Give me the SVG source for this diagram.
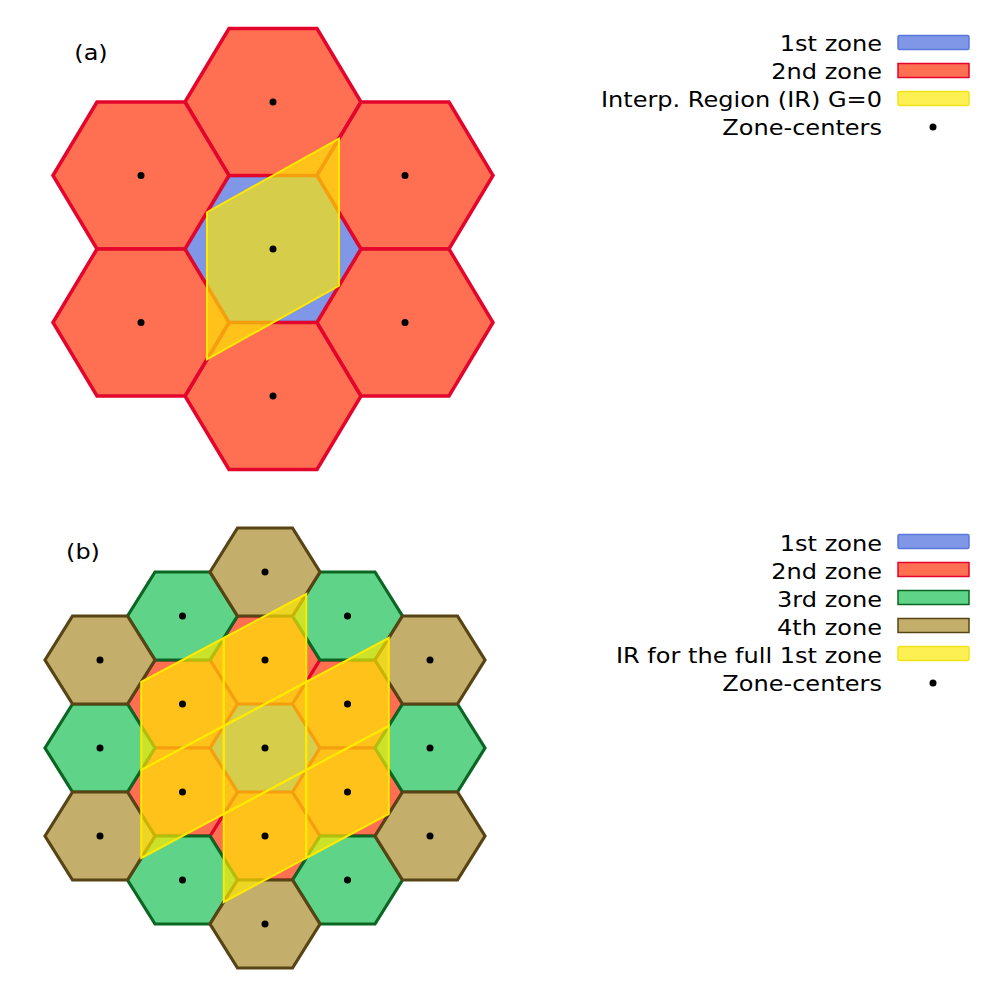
<svg xmlns="http://www.w3.org/2000/svg" width="1000" height="1000" viewBox="0 0 1000 1000">
<style>
text{font-family:"DejaVu Sans","Liberation Sans",sans-serif;font-size:22px;fill:#000}
.lg{text-anchor:end}
.z1{fill:#8096e6;stroke:#5a78dc;stroke-width:3.5;stroke-linejoin:miter}
.z2{fill:#ff7052;stroke:#e3052c;stroke-width:3.5;stroke-linejoin:miter}
.b .z1,.b .z2{stroke-width:3.2}
.z3{fill:#5fd387;stroke:#0b6623;stroke-width:3.2}
.z4{fill:#c4ae6c;stroke:#574415;stroke-width:3.2}
.ir{fill:#ffe900;fill-opacity:0.68;stroke:#ffea00;stroke-width:2}
.dot{fill:#000}
.p1{fill:#8096e6;stroke:#5a78dc;stroke-width:1.5}
.p2{fill:#ff7052;stroke:#e3052c;stroke-width:1.5}
.p3{fill:#5fd387;stroke:#0b6623;stroke-width:1.5}
.p4{fill:#c4ae6c;stroke:#574415;stroke-width:1.5}
.pir{fill:#fdf052;stroke:#f2e21a;stroke-width:1.5}
</style>
<rect width="1000" height="1000" fill="#fff"/>

<g id="panel-a">
<text transform="translate(91,60) scale(1.09,1)" text-anchor="middle">(a)</text>
<g id="a-zone1-center"><polygon class="z1" points="185,249 229,175.5 317,175.5 361,249 317,322.5 229,322.5"/></g>
<g id="a-zone2-top"><polygon class="z2" points="185,102 229,28.5 317,28.5 361,102 317,175.5 229,175.5"/></g>
<g id="a-zone2-bottom"><polygon class="z2" points="185,396 229,322.5 317,322.5 361,396 317,469.5 229,469.5"/></g>
<g id="a-zone2-tl"><polygon class="z2" points="53,175.5 97,102 185,102 229,175.5 185,249 97,249"/></g>
<g id="a-zone2-bl"><polygon class="z2" points="53,322.5 97,249 185,249 229,322.5 185,396 97,396"/></g>
<g id="a-zone2-tr"><polygon class="z2" points="317,175.5 361,102 449,102 493,175.5 449,249 361,249"/></g>
<g id="a-zone2-br"><polygon class="z2" points="317,322.5 361,249 449,249 493,322.5 449,396 361,396"/></g>
<g id="a-ir"><polygon class="ir" points="207,212.25 339,138.75 339,285.75 207,359.25"/></g>
<g id="a-centers">
<circle class="dot" cx="273" cy="249" r="3.5"/>
<circle class="dot" cx="273" cy="102" r="3.5"/>
<circle class="dot" cx="273" cy="396" r="3.5"/>
<circle class="dot" cx="141" cy="175.5" r="3.5"/>
<circle class="dot" cx="141" cy="322.5" r="3.5"/>
<circle class="dot" cx="405" cy="175.5" r="3.5"/>
<circle class="dot" cx="405" cy="322.5" r="3.5"/>
</g>
<g id="a-legend">
<g transform="translate(882,0) scale(1.093,1)">
<text class="lg" x="0" y="51">1st zone</text>
<text class="lg" x="0" y="79">2nd zone</text>
<text class="lg" x="0" y="107">Interp. Region (IR) G=0</text>
<text class="lg" x="0" y="135">Zone-centers</text>
</g>
<rect class="p1" x="898" y="35.5" width="71" height="14" rx="1.5"/>
<rect class="p2" x="898" y="63.5" width="71" height="14"/>
<rect class="pir" x="898" y="91.5" width="71" height="14" rx="1.5"/>
<circle class="dot" cx="933" cy="127" r="3.5"/>
</g>
</g>

<g id="panel-b" class="b">
<text transform="translate(83,559) scale(1.09,1)" text-anchor="middle">(b)</text>
<g id="b-zone1-center"><polygon class="z1" points="210,748 237.5,704 292.5,704 320,748 292.5,792 237.5,792"/></g>
<g id="b-zone2-1"><polygon class="z2" points="210,660 237.5,616 292.5,616 320,660 292.5,704 237.5,704"/></g>
<g id="b-zone2-2"><polygon class="z2" points="210,836 237.5,792 292.5,792 320,836 292.5,880 237.5,880"/></g>
<g id="b-zone2-3"><polygon class="z2" points="127.5,704 155,660 210,660 237.5,704 210,748 155,748"/></g>
<g id="b-zone2-4"><polygon class="z2" points="127.5,792 155,748 210,748 237.5,792 210,836 155,836"/></g>
<g id="b-zone2-5"><polygon class="z2" points="292.5,704 320,660 375,660 402.5,704 375,748 320,748"/></g>
<g id="b-zone2-6"><polygon class="z2" points="292.5,792 320,748 375,748 402.5,792 375,836 320,836"/></g>
<g id="b-zone3-1"><polygon class="z3" points="127.5,616 155,572 210,572 237.5,616 210,660 155,660"/></g>
<g id="b-zone3-2"><polygon class="z3" points="292.5,616 320,572 375,572 402.5,616 375,660 320,660"/></g>
<g id="b-zone3-3"><polygon class="z3" points="375,748 402.5,704 457.5,704 485,748 457.5,792 402.5,792"/></g>
<g id="b-zone3-4"><polygon class="z3" points="292.5,880 320,836 375,836 402.5,880 375,924 320,924"/></g>
<g id="b-zone3-5"><polygon class="z3" points="127.5,880 155,836 210,836 237.5,880 210,924 155,924"/></g>
<g id="b-zone3-6"><polygon class="z3" points="45,748 72.5,704 127.5,704 155,748 127.5,792 72.5,792"/></g>
<g id="b-zone4-1"><polygon class="z4" points="210,572 237.5,528 292.5,528 320,572 292.5,616 237.5,616"/></g>
<g id="b-zone4-2"><polygon class="z4" points="375,660 402.5,616 457.5,616 485,660 457.5,704 402.5,704"/></g>
<g id="b-zone4-3"><polygon class="z4" points="375,836 402.5,792 457.5,792 485,836 457.5,880 402.5,880"/></g>
<g id="b-zone4-4"><polygon class="z4" points="210,924 237.5,880 292.5,880 320,924 292.5,968 237.5,968"/></g>
<g id="b-zone4-5"><polygon class="z4" points="45,836 72.5,792 127.5,792 155,836 127.5,880 72.5,880"/></g>
<g id="b-zone4-6"><polygon class="z4" points="45,660 72.5,616 127.5,616 155,660 127.5,704 72.5,704"/></g>
<g id="b-ir">
<polygon class="ir" points="223.75,726 306.25,682 306.25,770 223.75,814"/>
<polygon class="ir" points="223.75,638 306.25,594 306.25,682 223.75,726"/>
<polygon class="ir" points="223.75,814 306.25,770 306.25,858 223.75,902"/>
<polygon class="ir" points="141.25,682 223.75,638 223.75,726 141.25,770"/>
<polygon class="ir" points="141.25,770 223.75,726 223.75,814 141.25,858"/>
<polygon class="ir" points="306.25,682 388.75,638 388.75,726 306.25,770"/>
<polygon class="ir" points="306.25,770 388.75,726 388.75,814 306.25,858"/>
</g>
<g id="b-centers">
<circle class="dot" cx="265" cy="748" r="3.5"/>
<circle class="dot" cx="265" cy="660" r="3.5"/>
<circle class="dot" cx="265" cy="836" r="3.5"/>
<circle class="dot" cx="182.5" cy="704" r="3.5"/>
<circle class="dot" cx="182.5" cy="792" r="3.5"/>
<circle class="dot" cx="347.5" cy="704" r="3.5"/>
<circle class="dot" cx="347.5" cy="792" r="3.5"/>
<circle class="dot" cx="182.5" cy="616" r="3.5"/>
<circle class="dot" cx="347.5" cy="616" r="3.5"/>
<circle class="dot" cx="430" cy="748" r="3.5"/>
<circle class="dot" cx="347.5" cy="880" r="3.5"/>
<circle class="dot" cx="182.5" cy="880" r="3.5"/>
<circle class="dot" cx="100" cy="748" r="3.5"/>
<circle class="dot" cx="265" cy="572" r="3.5"/>
<circle class="dot" cx="430" cy="660" r="3.5"/>
<circle class="dot" cx="430" cy="836" r="3.5"/>
<circle class="dot" cx="265" cy="924" r="3.5"/>
<circle class="dot" cx="100" cy="836" r="3.5"/>
<circle class="dot" cx="100" cy="660" r="3.5"/>
</g>
<g id="b-legend">
<g transform="translate(882,0) scale(1.093,1)">
<text class="lg" x="0" y="551">1st zone</text>
<text class="lg" x="0" y="579">2nd zone</text>
<text class="lg" x="0" y="607">3rd zone</text>
<text class="lg" x="0" y="635">4th zone</text>
<text class="lg" x="0" y="663">IR for the full 1st zone</text>
<text class="lg" x="0" y="691">Zone-centers</text>
</g>
<rect class="p1" x="898" y="534.5" width="71" height="14" rx="1.5"/>
<rect class="p2" x="898" y="562.5" width="71" height="14"/>
<rect class="p3" x="898" y="590.5" width="71" height="14"/>
<rect class="p4" x="898" y="618.5" width="71" height="14"/>
<rect class="pir" x="898" y="646.5" width="71" height="14" rx="1.5"/>
<circle class="dot" cx="933" cy="683" r="3.5"/>
</g>
</g>
</svg>
